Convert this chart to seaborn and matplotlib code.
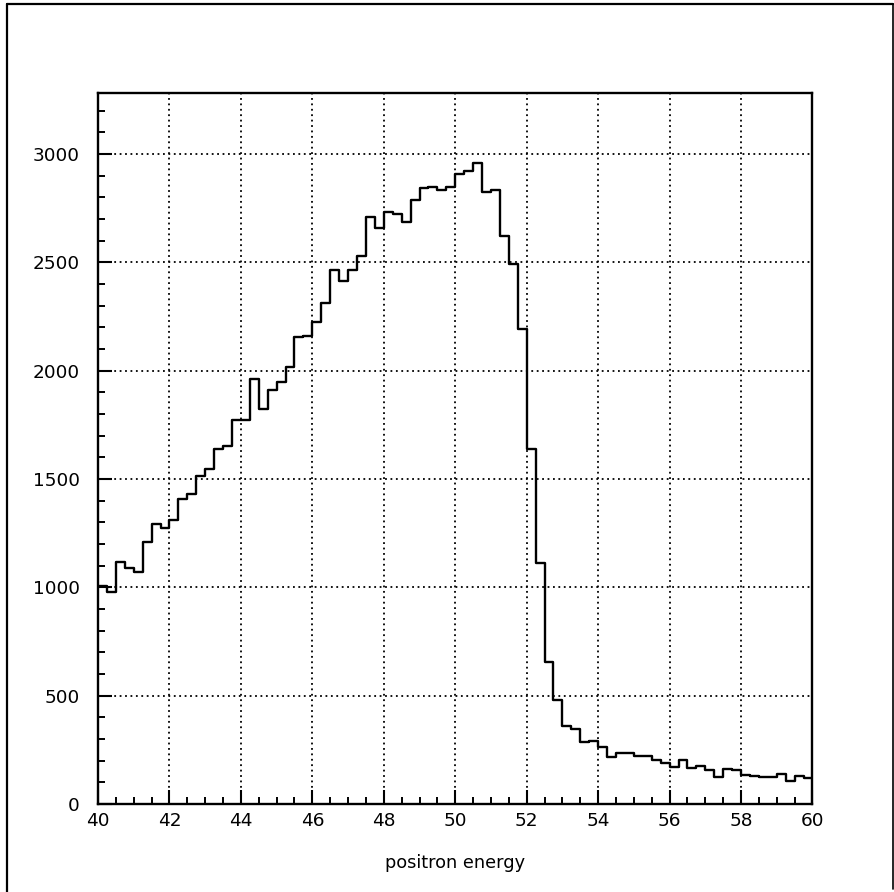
import numpy as np
import pandas as pd
import matplotlib
matplotlib.use("Agg")
import matplotlib.pyplot as plt
from matplotlib.lines import Line2D
from matplotlib.ticker import MultipleLocator
import seaborn as sns

# Histogram data: 80 bins of width 0.25 from 40 to 60
bin_start, bin_stop, bin_width = 40.0, 60.0, 0.25
counts = [
    1005, 977, 1115, 1089, 1069, 1208, 1294, 1274,      # 40 - 42
    1309, 1408, 1431, 1515, 1546, 1639, 1654, 1774,     # 42 - 44
    1774, 1962, 1825, 1912, 1946, 2017, 2155, 2158,     # 44 - 46
    2223, 2312, 2466, 2415, 2466, 2527, 2707, 2657,     # 46 - 48
    2732, 2724, 2684, 2789, 2843, 2848, 2835, 2850,     # 48 - 50
    2909, 2921, 2958, 2823, 2835, 2620, 2494, 2192,     # 50 - 52
    1640, 1113, 654, 482, 359, 348, 286, 289,           # 52 - 54
    262, 217, 236, 236, 220, 220, 202, 190,             # 54 - 56
    171, 202, 166, 174, 159, 125, 163, 159,             # 56 - 58
    136, 131, 123, 125, 139, 108, 131, 120,             # 58 - 60
]
x_label = "positron energy"
x_ticks = [40, 42, 44, 46, 48, 50, 52, 54, 56, 58, 60]
y_ticks = [0, 500, 1000, 1500, 2000, 2500, 3000]

centers = bin_start + bin_width * (np.arange(len(counts)) + 0.5)
df = pd.DataFrame({"energy": centers, "count": counts})

sns.set_theme(style="white")
plt.rcParams["font.family"] = ["DejaVu Sans"]

fig = plt.figure(figsize=(8.95, 8.92), dpi=100)
ax = fig.add_axes([98 / 895, 1 - 804 / 892, (812.5 - 98) / 895, (804 - 92.7) / 892])

sns.histplot(data=df, x="energy", weights="count", binwidth=bin_width,
             binrange=(bin_start, bin_stop),
             element="step", fill=False, color="black", linewidth=1.7, ax=ax)

ax.set_xlim(40, 60)
ax.set_ylim(0, 3283)
ax.set_xticks(x_ticks)
ax.set_yticks(y_ticks)
ax.xaxis.set_minor_locator(MultipleLocator(0.5))
ax.yaxis.set_minor_locator(MultipleLocator(100))

ax.grid(True, which="major", color="black", linestyle=(0, (1.0, 2.0)), linewidth=1.3)
ax.set_axisbelow(False)

for s in ax.spines.values():
    s.set_color("black")
    s.set_linewidth(1.7)
    s.set_visible(True)

ax.tick_params(axis="both", which="major", direction="in", length=10, width=1.5,
               color="black", labelsize=13.3, labelcolor="black")
ax.tick_params(axis="both", which="minor", direction="in", length=5, width=1.4, color="black")
ax.tick_params(axis="y", which="both", pad=13, left=True, right=False)
ax.tick_params(axis="x", which="both", pad=6, bottom=True, top=False)

ax.set_ylabel("")
ax.set_xlabel(x_label, fontsize=12.8, color="black", labelpad=17)

# outer frame of the page
fig.add_artist(Line2D([7 / 895, 7 / 895], [0.0, 1 - 4 / 892], transform=fig.transFigure,
                      color="black", linewidth=1.6))
fig.add_artist(Line2D([7 / 895, 893 / 895], [1 - 4 / 892, 1 - 4 / 892], transform=fig.transFigure,
                      color="black", linewidth=1.6))
fig.add_artist(Line2D([893 / 895, 893 / 895], [3 / 892, 1 - 4 / 892], transform=fig.transFigure,
                      color="black", linewidth=1.2))

fig.savefig("out.png", dpi=100, facecolor="white")
